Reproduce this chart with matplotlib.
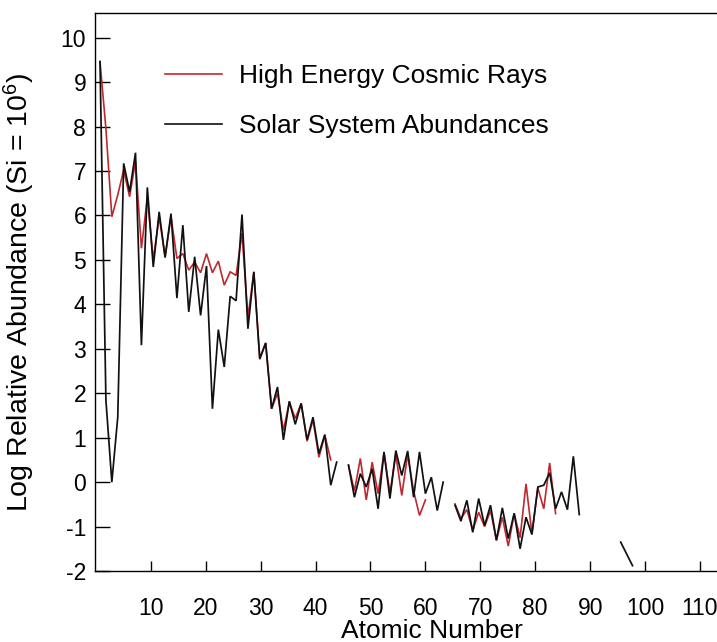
import numpy as np
import matplotlib
matplotlib.use("Agg")
import matplotlib.pyplot as plt
from matplotlib.lines import Line2D

plt.rcParams["font.family"] = ["Liberation Sans", "DejaVu Sans"]
plt.rcParams["mathtext.fontset"] = "custom"
plt.rcParams["mathtext.rm"] = "Liberation Sans"
plt.rcParams["mathtext.it"] = "Liberation Sans:italic"
plt.rcParams["mathtext.bf"] = "Liberation Sans:bold"

# Atomic numbers He (2) .. U (92); NaN breaks the line where no value exists
atomic_number = list(range(2, 93))

solar_system = [
    9.46, 1.84, 0.00, 1.46, 7.17, 6.53, 7.41, 3.08, 6.63,           # He-Ne
    4.84, 6.08, 5.05, 6.04, 4.14, 5.78, 3.83, 5.07,                 # Na-Ar
    3.75, 4.86, 1.65, 3.43, 2.59, 4.18, 4.08, 6.02, 3.45, 4.73,     # K-Ni
    2.78, 3.13, 1.65, 2.14, 0.95, 1.82, 1.30, 1.77,                 # Cu-Kr
    0.95, 1.46, 0.64, 1.07, -0.07, 0.45, np.nan, 0.38, -0.34, 0.19, # Rb-Pd
    -0.11, 0.30, -0.60, 0.68, -0.37, 0.71, 0.15, 0.70,              # Ag-Xe
    -0.34, 0.68, -0.26, 0.11, -0.64, 0.00, np.nan, -0.52, -0.88,    # Cs-Eu
    -0.41, -1.13, -0.37, -0.98, -0.52, -1.31, -0.58, -1.27,         # Gd-Lu
    -0.70, -1.50, -0.79, -1.18, -0.11, -0.07, 0.21, -0.60,          # Hf-Au
    -0.22, -0.62, 0.58, -0.73,                                      # Hg-Bi
    np.nan, np.nan, np.nan, np.nan, np.nan, np.nan,                 # Po-Ac
    -1.35, np.nan, -1.88,                                           # Th-U
]

cosmic_rays = [
    9.46, 7.95, 5.97, 6.46, 7.02, 6.42, 7.22, 5.26, 6.40,           # He-Ne
    5.00, 5.97, 5.07, 5.97, 5.03, 5.14, 4.77, 4.95,                 # Na-Ar
    4.71, 5.14, 4.71, 4.97, 4.43, 4.73, 4.65, 5.60, 3.70, 4.73,     # K-Ni
    2.76, 3.13, 1.65, 2.00, 1.16, 1.80, 1.43, 1.77,                 # Cu-Kr
    0.92, 1.40, 0.56, 1.05, 0.50, np.nan, np.nan, 0.38, -0.20, 0.53,# Rb-Pd
    -0.40, 0.45, -0.26, 0.66, -0.25, 0.62, -0.30, 0.62,             # Ag-Xe
    -0.20, -0.75, -0.40, np.nan, np.nan, np.nan, np.nan, -0.49, -0.82,  # Cs-Eu
    -0.62, -1.09, -0.68, -1.00, -0.64, -1.31, -0.79, -1.44,         # Gd-Lu
    -0.71, -1.25, -0.04, -1.16, -0.13, -0.60, 0.43, -0.71,          # Hf-Au
    np.nan, np.nan, np.nan, np.nan,                                 # Hg-Bi
    np.nan, np.nan, np.nan, np.nan, np.nan, np.nan,                 # Po-Ac
    np.nan, np.nan, np.nan,                                         # Th-U
]

x_ticks = [10, 20, 30, 40, 50, 60, 70, 80, 90, 100, 110]
y_ticks = [-2, -1, 0, 1, 2, 3, 4, 5, 6, 7, 8, 9, 10]

# Thorium connects directly to uranium (protactinium has no entry)
z = np.array(atomic_number, dtype=float)
solar = np.array(solar_system, dtype=float)
keep = ~((z == 91) & np.isnan(solar))
z_solar, solar = z[keep], solar[keep]
cosmic = np.array(cosmic_rays, dtype=float)

fig = plt.figure(figsize=(7.17, 6.42), dpi=100)
ax = fig.add_axes([0.1318, 0.1106, 0.8682, 0.8696])

ax.set_xlim(-0.255, 113.1)
ax.set_ylim(-2, 10.56)
ax.set_xticks(x_ticks)
ax.set_xticklabels([str(t) for t in x_ticks])
ax.set_yticks(y_ticks)
ax.set_yticklabels([str(t) for t in y_ticks])
ax.tick_params(axis="x", direction="in", length=7, width=1.0, pad=19,
               labelsize=16.5, top=False)
ax.tick_params(axis="y", direction="in", length=10.5, width=1.0, pad=6,
               labelsize=16.5, right=False)
for side in ("left", "bottom", "top"):
    ax.spines[side].set_linewidth(1.0)
ax.spines["right"].set_visible(False)

ax.set_xlabel("Atomic Number", fontsize=19)
ax.xaxis.set_label_coords(0.542, -0.086)
ax.set_ylabel("Log Relative Abundance (Si = 10$^{6}$)", fontsize=20.5)
ax.yaxis.set_label_coords(-0.093, 0.50)

# Abundance curves on their own element-number scale
ax2 = ax.twiny()
ax2.set_xlim(1.07, 106.28)
ax2.xaxis.set_visible(False)
for s in ax2.spines.values():
    s.set_visible(False)

red = "#c1272d"
ax2.plot(z, cosmic, color=red, lw=1.2, solid_joinstyle="miter")
ax2.plot(z_solar, solar, color="#111111", lw=1.25, solid_joinstyle="miter")

handles = [Line2D([], [], color=red, lw=1.2),
           Line2D([], [], color="#111111", lw=1.2)]
fig.legend(handles, ["High Energy Cosmic Rays", "Solar System Abundances"],
           loc="upper left", bbox_to_anchor=(0.230, 0.900), frameon=False,
           fontsize=19, handlelength=2.18, handletextpad=0.64,
           labelspacing=0.98, borderpad=0, borderaxespad=0)

fig.savefig("out.png", dpi=100)
